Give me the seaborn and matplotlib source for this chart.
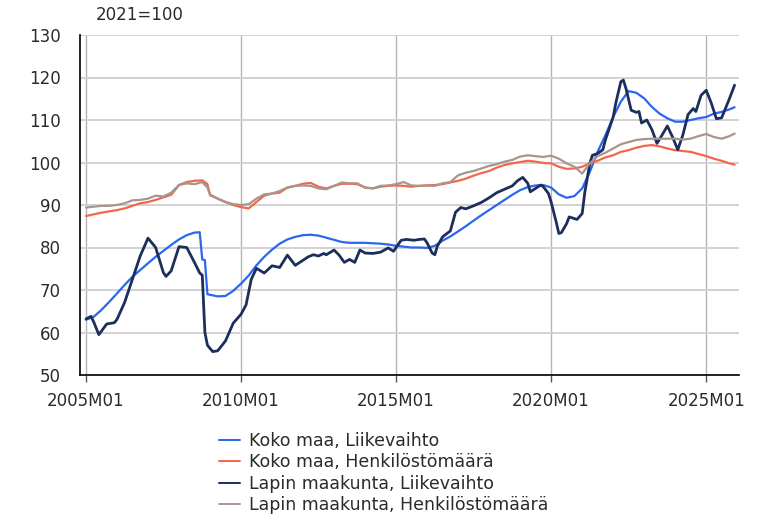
import matplotlib.pyplot as plt
import pandas as pd
import seaborn as sns

from matplotlib.lines import Line2D

sns.set_theme(style="white")
plt.rcParams["font.family"] = ["DejaVu Sans"]

SERIES = [
    "Koko maa, Liikevaihto",
    "Koko maa, Henkilöstömäärä",
    "Lapin maakunta, Liikevaihto",
    "Lapin maakunta, Henkilöstömäärä",
]
COLORS = ["#2a66ee", "#f4664c", "#1c2e5c", "#a8958d"]
LINE_WIDTHS = [1.6, 1.6, 2.0, 1.6]

# Koko maa, Liikevaihto (2021=100)
koko_lv_months = [
    "2005-01", "2005-04", "2005-07", "2005-10", "2006-01", "2006-04", "2006-07", "2006-10",
    "2007-01", "2007-04", "2007-07", "2007-10", "2008-01", "2008-04", "2008-07", "2008-09",
    "2008-10", "2008-11", "2008-12", "2009-04", "2009-07", "2009-10", "2010-01", "2010-04",
    "2010-07", "2010-10", "2011-01", "2011-04", "2011-07", "2011-10", "2012-01", "2012-04",
    "2012-07", "2012-10", "2013-01", "2013-04", "2013-07", "2013-10", "2014-01", "2014-04",
    "2014-07", "2014-10", "2015-01", "2015-04", "2015-07", "2015-10", "2016-01", "2016-04",
    "2016-07", "2016-10", "2017-01", "2017-04", "2017-07", "2017-10", "2018-01", "2018-04",
    "2018-07", "2018-10", "2019-01", "2019-04", "2019-07", "2019-10", "2020-01", "2020-04",
    "2020-07", "2020-10", "2021-01", "2021-04", "2021-07", "2021-10", "2022-01", "2022-04",
    "2022-07", "2022-10", "2023-01", "2023-04", "2023-07", "2023-10", "2024-01", "2024-04",
    "2024-07", "2024-10", "2025-01", "2025-04", "2025-07", "2025-10", "2025-12",
]
koko_lv = [
    63.0, 63.7, 65.3, 67.2, 69.2, 71.2, 73.1, 74.7,
    76.3, 77.8, 79.2, 80.6, 81.9, 82.9, 83.5, 83.6,
    77.2, 77.0, 69.0, 68.5, 68.6, 69.8, 71.5, 73.4,
    75.8, 77.8, 79.5, 80.9, 81.9, 82.5, 82.9, 83.0,
    82.8, 82.3, 81.8, 81.3, 81.1, 81.1, 81.1, 81.0,
    80.9, 80.7, 80.4, 80.2, 80.0, 80.0, 79.9, 80.4,
    81.6, 82.6, 83.8, 85.0, 86.3, 87.6, 88.8, 90.0,
    91.2, 92.4, 93.5, 94.2, 94.6, 94.7, 94.1, 92.5,
    91.7, 92.1, 93.9, 97.8, 102.5, 106.4, 110.7, 114.3,
    116.8, 116.4, 115.1, 113.1, 111.5, 110.4, 109.6, 109.6,
    110.0, 110.4, 110.7, 111.5, 111.9, 112.5, 113.0,
]

# Henkilöstömäärä series share one month list
hlo_months = [
    "2005-01", "2005-04", "2005-07", "2005-10", "2006-01", "2006-04", "2006-07", "2006-10",
    "2007-01", "2007-04", "2007-07", "2007-10", "2008-01", "2008-04", "2008-07", "2008-10",
    "2008-12", "2009-01", "2009-04", "2009-07", "2009-10", "2010-01", "2010-04", "2010-07",
    "2010-10", "2011-01", "2011-04", "2011-07", "2011-10", "2012-01", "2012-04", "2012-07",
    "2012-10", "2013-01", "2013-04", "2013-07", "2013-10", "2014-01", "2014-04", "2014-07",
    "2014-10", "2015-01", "2015-04", "2015-07", "2015-10", "2016-01", "2016-04", "2016-07",
    "2016-10", "2017-01", "2017-04", "2017-07", "2017-10", "2018-01", "2018-04", "2018-07",
    "2018-10", "2019-01", "2019-04", "2019-07", "2019-10", "2020-01", "2020-04", "2020-07",
    "2020-10", "2021-01", "2021-04", "2021-07", "2021-10", "2022-01", "2022-04", "2022-07",
    "2022-10", "2023-01", "2023-04", "2023-07", "2023-10", "2024-01", "2024-04", "2024-07",
    "2024-10", "2025-01", "2025-04", "2025-07", "2025-10", "2025-12",
]
koko_hlo = [
    87.4, 87.8, 88.2, 88.5, 88.8, 89.2, 89.8, 90.4,
    90.7, 91.2, 91.8, 92.4, 94.7, 95.4, 95.7, 95.8,
    94.9, 92.3, 91.5, 90.7, 90.0, 89.5, 89.2, 90.7,
    92.2, 92.7, 92.9, 94.1, 94.5, 95.0, 95.2, 94.3,
    93.9, 94.5, 95.0, 95.0, 94.9, 94.1, 93.9, 94.3,
    94.5, 94.6, 94.5, 94.3, 94.5, 94.6, 94.7, 94.9,
    95.3, 95.7, 96.2, 96.9, 97.5, 98.0, 98.8, 99.4,
    99.8, 100.1, 100.4, 100.2, 99.9, 99.8, 99.0, 98.5,
    98.6, 99.0, 99.8, 100.4, 101.2, 101.7, 102.5, 102.9,
    103.5, 103.9, 104.1, 103.8, 103.3, 102.9, 102.7, 102.5,
    102.0, 101.5, 100.9, 100.4, 99.8, 99.5,
]
lappi_hlo = [
    89.4, 89.6, 89.8, 89.8, 90.0, 90.4, 91.1, 91.2,
    91.5, 92.2, 92.0, 92.9, 94.7, 95.1, 94.9, 95.4,
    94.1, 92.5, 91.5, 90.7, 90.2, 90.0, 90.2, 91.5,
    92.5, 92.7, 93.3, 94.1, 94.5, 94.6, 94.5, 93.9,
    93.7, 94.5, 95.3, 95.1, 95.1, 94.1, 93.9, 94.5,
    94.6, 94.9, 95.4, 94.6, 94.5, 94.6, 94.5, 95.1,
    95.4, 97.0, 97.6, 98.0, 98.6, 99.2, 99.6, 100.2,
    100.6, 101.4, 101.7, 101.5, 101.3, 101.6, 100.9, 99.8,
    99.0, 97.4, 99.8, 101.5, 102.3, 103.3, 104.3, 104.8,
    105.3, 105.5, 105.6, 105.6, 105.6, 105.6, 105.4, 105.6,
    106.2, 106.7, 106.0, 105.6, 106.2, 106.8,
]

# Lapin maakunta, Liikevaihto: turning points
lappi_lv_months = [
    "2005-01", "2005-03", "2005-04", "2005-06", "2005-07", "2005-09", "2005-12", "2006-01",
    "2006-04", "2006-07", "2006-10", "2007-01", "2007-04", "2007-07", "2007-08", "2007-10",
    "2008-01", "2008-04", "2008-07", "2008-09", "2008-10", "2008-11", "2008-12", "2009-02",
    "2009-04", "2009-07", "2009-10", "2010-01", "2010-03", "2010-05", "2010-07", "2010-10",
    "2011-01", "2011-04", "2011-07", "2011-10", "2012-01", "2012-03", "2012-05", "2012-07",
    "2012-09", "2012-10", "2013-01", "2013-03", "2013-05", "2013-07", "2013-09", "2013-11",
    "2014-01", "2014-04", "2014-07", "2014-10", "2014-12", "2015-03", "2015-05", "2015-08",
    "2015-10", "2015-12", "2016-01", "2016-03", "2016-04", "2016-05", "2016-07", "2016-10",
    "2016-12", "2017-02", "2017-04", "2017-07", "2017-10", "2018-01", "2018-04", "2018-07",
    "2018-10", "2018-12", "2019-02", "2019-04", "2019-05", "2019-07", "2019-09", "2019-10",
    "2019-12", "2020-01", "2020-03", "2020-04", "2020-05", "2020-07", "2020-08", "2020-10",
    "2020-11", "2021-01", "2021-02", "2021-04", "2021-05", "2021-07", "2021-09", "2021-10",
    "2022-01", "2022-02", "2022-04", "2022-05", "2022-06", "2022-08", "2022-10", "2022-11",
    "2022-12", "2023-02", "2023-04", "2023-06", "2023-08", "2023-10", "2023-12", "2024-02",
    "2024-04", "2024-06", "2024-08", "2024-09", "2024-11", "2025-01", "2025-03", "2025-05",
    "2025-07", "2025-08", "2025-10", "2025-12",
]
lappi_lv = [
    63.2, 63.8, 62.5, 59.5, 60.3, 62.0, 62.3, 63.1,
    67.1, 72.5, 78.0, 82.2, 80.0, 74.1, 73.2, 74.5,
    80.2, 80.0, 76.5, 74.0, 73.5, 60.0, 57.0, 55.5,
    55.7, 58.0, 62.2, 64.3, 66.5, 72.5, 75.1, 74.0,
    75.7, 75.3, 78.2, 75.8, 77.0, 77.8, 78.3, 78.0,
    78.6, 78.3, 79.4, 78.2, 76.5, 77.2, 76.5, 79.4,
    78.7, 78.6, 78.9, 79.9, 79.1, 81.7, 81.9, 81.7,
    81.9, 82.0, 81.1, 78.7, 78.3, 80.3, 82.5, 83.9,
    88.3, 89.4, 89.1, 89.8, 90.6, 91.7, 92.9, 93.7,
    94.5, 95.7, 96.5, 95.1, 93.1, 93.9, 94.7, 94.3,
    92.7, 90.7, 86.0, 83.3, 83.5, 85.6, 87.2, 86.8,
    86.6, 88.0, 93.0, 99.8, 101.7, 102.1, 103.0, 105.3,
    110.7, 114.0, 119.0, 119.4, 117.4, 112.3, 111.8, 112.0,
    109.3, 110.0, 107.8, 104.5, 106.5, 108.6, 106.0, 103.0,
    106.5, 111.3, 112.7, 112.0, 115.8, 117.0, 114.0, 110.3,
    110.5, 112.0, 115.0, 118.2,
]

X_TICKS = ["2005-01", "2010-01", "2015-01", "2020-01", "2025-01"]
X_TICK_LABELS = ["2005M01", "2010M01", "2015M01", "2020M01", "2025M01"]
Y_TICKS = [50, 60, 70, 80, 90, 100, 110, 120, 130]


def frame(name, months, values):
    return pd.DataFrame({"kk": pd.to_datetime(months), "arvo": values, "sarja": name})


df = pd.concat(
    [
        frame(SERIES[0], koko_lv_months, koko_lv),
        frame(SERIES[1], hlo_months, koko_hlo),
        frame(SERIES[2], lappi_lv_months, lappi_lv),
        frame(SERIES[3], hlo_months, lappi_hlo),
    ],
    ignore_index=True,
)

W, H = 758, 519
fig = plt.figure(figsize=(W / 100, H / 100), dpi=100)
ax = fig.add_axes([80 / W, 1 - 375 / H, 659 / W, 340 / H])

sns.lineplot(
    data=df, x="kk", y="arvo", hue="sarja", hue_order=SERIES,
    palette=COLORS, estimator=None, legend=False, ax=ax,
)
for line, lw in zip(ax.lines, LINE_WIDTHS):
    line.set_linewidth(lw)
    line.set_solid_joinstyle("round")

ax.set_xlim(pd.Timestamp("2004-10-22"), pd.Timestamp("2026-01-22"))
ax.set_ylim(50, 130)
ax.set_xticks(pd.to_datetime(X_TICKS))
ax.set_xticklabels(X_TICK_LABELS)
ax.set_yticks(Y_TICKS)
ax.set_xlabel("")
ax.set_ylabel("")

ax.xaxis.grid(True, color="#b4b4b4", linewidth=1.0)
ax.yaxis.grid(True, color="#d2d2d2", linewidth=1.4)
ax.set_axisbelow(True)
for side in ["top", "right"]:
    ax.spines[side].set_visible(False)
for side in ["left", "bottom"]:
    ax.spines[side].set_color("black")
    ax.spines[side].set_linewidth(1.2)

ax.tick_params(axis="x", bottom=True, length=5, width=1, color="#555555",
               pad=7, labelsize=12, labelcolor="#2b2b2b")
ax.tick_params(axis="y", left=False, length=0, pad=14, labelsize=12,
               labelcolor="#2b2b2b")

fig.text(96 / W, 1 - 15 / H, "2021=100", fontsize=12, color="#2b2b2b",
         ha="left", va="center")

handles = [Line2D([], [], color=c, linewidth=1.4) for c in COLORS]
fig.legend(
    handles, SERIES, loc="upper left", bbox_to_anchor=(219 / W, 1 - 432 / H),
    frameon=False, borderpad=0, borderaxespad=0, handlelength=1.2,
    handletextpad=0.5, labelspacing=0.2, fontsize=12.5, labelcolor="#2b2b2b",
)

fig.savefig("out.png", dpi=100)
